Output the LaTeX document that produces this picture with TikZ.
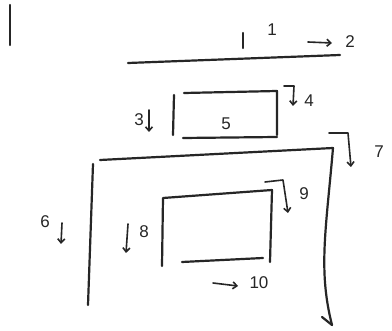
\documentclass[tikz,border=0pt]{standalone}
\usepackage{fontspec}
\setmainfont{Liberation Sans}
\usetikzlibrary{arrows.meta}
\begin{document}
\begin{tikzpicture}[x=1pt,y=-1pt,
  pen/.style={line width=2.2pt,draw=black!85,line cap=round,line join=round},
  arr/.style={pen,line width=1.6pt,-{Straight Barb[length=4pt,width=7pt]}},
  lbl/.style={font=\fontsize{17}{17}\selectfont,text=black!85,inner sep=0pt}]
\useasboundingbox[fill=white] (0,0) rectangle (392,331);
% top strokes
\draw[pen] (10,5) -- (10,45);
\draw[pen] (243,33) -- (243,48);
\node[lbl] (n1) at (272,30) {1};
\coordinate (a2s) at (308,42);
\coordinate (a2e) at (332,43);
\draw[arr] (a2s) -- (a2e);
\node[lbl] (n2) at (350,42) {2};
\draw[pen] (128,63) -- (340,55);
% box 5
\draw[pen] (174,95) -- (173,135);
\draw[pen] (184,93) -- (277,91) -- (277,135);
\draw[pen] (183,138) -- (277,137);
\node[lbl] (n5) at (226,124) {5};
\node[lbl] (n3) at (139,120) {3};
\coordinate (a3s) at (149,110);
\coordinate (a3e) at (149,132);
\draw[arr] (a3s) -- (a3e);
\coordinate (h4a) at (284,86);
\coordinate (h4b) at (294,86);
\coordinate (h4c) at (293,106);
\draw[arr] (h4a) -- (h4b) -- (h4c);
\node[lbl] (n4) at (309,101) {4};
% big box
\draw[pen] (100,160) -- (333,148) .. controls (326,230) and (318,270) .. (332,325);
\draw[pen] (322,317) -- (332,325);
\draw[pen] (93,164) -- (88,305);
\node[lbl] (n6) at (45,222) {6};
\coordinate (a6s) at (62,223);
\coordinate (a6e) at (61,244);
\draw[arr] (a6s) -- (a6e);
\coordinate (h7a) at (329,133);
\coordinate (h7b) at (348,133);
\coordinate (h7c) at (351,167);
\draw[arr] (h7a) -- (h7b) -- (h7c);
\node[lbl] (n7) at (379,152) {7};
% inner box
\draw[pen] (162,266) -- (163,198) -- (272,190) -- (270,262);
\draw[pen] (182,262) -- (263,258);
\coordinate (a8s) at (128,224);
\coordinate (a8e) at (126,253);
\draw[arr] (a8s) -- (a8e);
\node[lbl] (n8) at (144,232) {8};
\coordinate (h9a) at (265,182);
\coordinate (h9b) at (283,180);
\coordinate (h9c) at (288,213);
\draw[arr] (h9a) -- (h9b) -- (h9c);
\node[lbl] (n9) at (304,194) {9};
\coordinate (a10s) at (213,283);
\coordinate (a10e) at (238,286);
\draw[arr] (a10s) -- (a10e);
\node[lbl] (n10) at (259,283) {10};
\end{tikzpicture}
\end{document}
